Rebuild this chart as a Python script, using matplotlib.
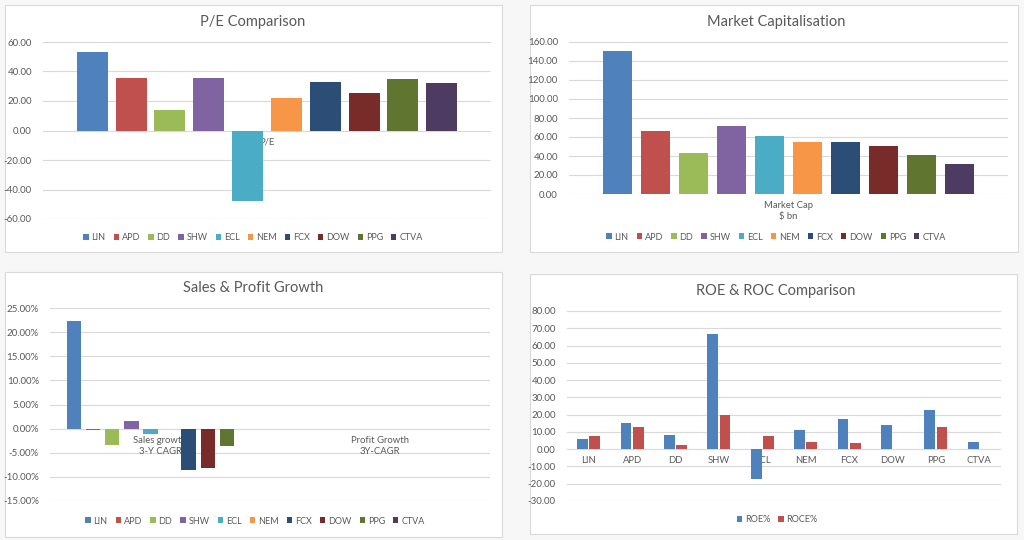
import numpy as np
import matplotlib
matplotlib.use('Agg')
import matplotlib.pyplot as plt
from matplotlib.patches import Rectangle

# data
tickers = ['LIN', 'APD', 'DD', 'SHW', 'ECL', 'NEM', 'FCX', 'DOW', 'PPG', 'CTVA']
pe = [53.5, 35.4, 14.0, 35.4, -48.0, 21.8, 32.6, 25.3, 34.9, 32.4]
mcap = [150.5, 66.3, 42.8, 71.9, 61.1, 54.4, 54.7, 50.2, 41.4, 31.9]
growth_cats = ['Sales growth\n3-Y CAGR', 'Profit Growth\n3Y-CAGR']
sales_growth = [22.3, -0.3, -3.3, 1.6, -1.1, np.nan, -8.6, -8.1, -3.5, np.nan]
profit_growth = [np.nan] * 10
roe = [5.8, 15.2, 8.5, 66.5, -17.3, 11.0, 17.7, 14.0, 22.5, 4.2]
roce = [7.7, 12.9, 2.5, 19.7, 7.7, 4.4, 3.7, np.nan, 12.9, np.nan]

colors = ['#4F81BD', '#C0504D', '#9BBB59', '#8064A2', '#4BACC6',
          '#F79646', '#2C4D75', '#772C2A', '#5F7530', '#4D3B62']
txt = '#595959'
grid_c = '#d9d9d9'

plt.rcParams['font.family'] = ['Lato', 'DejaVu Sans']

W, H = 1024, 540
fig = plt.figure(figsize=(W / 100, H / 100), dpi=100)
fig.patch.set_facecolor('#f7f7f7')


def px_axes(x0, y0, x1, y1):
    ax = fig.add_axes([x0 / W, 1 - y1 / H, (x1 - x0) / W, (y1 - y0) / H])
    ax.set_zorder(2)
    return ax


def panel(x0, y0, x1, y1):
    fig.patches.append(Rectangle((x0 / W, 1 - y1 / H), (x1 - x0) / W, (y1 - y0) / H,
                                 transform=fig.transFigure, facecolor='white',
                                 edgecolor=grid_c, lw=0.8, zorder=-1))


def style(ax, ylim, step, fmt):
    ax.set_facecolor('none')
    ax.set_ylim(*ylim)
    ax.set_yticks(np.arange(ylim[0], ylim[1] + step / 2, step))
    ax.yaxis.set_major_formatter(plt.FuncFormatter(lambda v, p: fmt.format(v)))
    ax.tick_params(axis='y', length=0, labelsize=7, labelcolor=txt, pad=8)
    ax.tick_params(axis='x', length=0, labelbottom=False)
    for s in ax.spines.values():
        s.set_visible(False)
    ax.grid(axis='y', color=grid_c, lw=0.8)
    ax.set_axisbelow(True)


def legend(handles, labels, cx, cy):
    fig.legend(handles, labels, loc='center', bbox_to_anchor=(cx / W, 1 - cy / H),
               ncol=len(labels), frameon=False, fontsize=6.5, labelcolor=txt,
               handlelength=0.6, handleheight=0.6, handletextpad=0.3,
               columnspacing=0.9, borderpad=0)


def cat_label(ax, x, text):
    # category labels sit just under the zero line, behind the bars
    ax.annotate(text, (x, 0), xytext=(0, -5), textcoords='offset points',
                ha='center', va='top', fontsize=6.8, color=txt, linespacing=1.3,
                zorder=0.8)


# ---- P/E Comparison ----
panel(5, 5, 502, 252)
ax1 = px_axes(43, 42, 491, 219)
x = np.arange(len(tickers))
bars1 = ax1.bar(x, pe, width=0.8, color=colors)
ax1.set_xlim(-1.27, 9 + 1.27)
style(ax1, (-60, 60), 20, '{:.2f}')
cat_label(ax1, x.mean(), 'P/E')
fig.text(253 / W, 1 - 22 / H, 'P/E Comparison', ha='center', va='center', fontsize=10.5, color=txt)
legend(bars1, tickers, 253, 238)

# ---- Market Capitalisation ----
panel(530, 5, 1018, 252)
ax2 = px_axes(569, 42, 1008, 194)
bars2 = ax2.bar(x, mcap, width=0.78, color=colors)
ax2.set_xlim(-1.28, 9 + 1.28)
style(ax2, (0, 160), 20, '{:.2f}')
cat_label(ax2, x.mean(), 'Market Cap\n$ bn')
fig.text(776 / W, 1 - 22 / H, 'Market Capitalisation', ha='center', va='center', fontsize=10.5, color=txt)
legend(bars2, tickers, 776, 237)

# ---- Sales & Profit Growth ----
panel(5, 272, 502, 537)
ax3 = px_axes(50, 308, 490, 501)
cat_w = 11.5
cat_x = np.arange(len(growth_cats)) * cat_w
handles3 = []
for i, t in enumerate(tickers):
    vals = [sales_growth[i], profit_growth[i]]
    b = ax3.bar(cat_x + (i - 4.5), vals, width=0.76, color=colors[i])
    handles3.append(b)
ax3.set_xlim(-cat_w / 2, cat_x[-1] + cat_w / 2)
style(ax3, (-15, 25), 5, '{:.2f}%')
for cx, lab in zip(cat_x, growth_cats):
    cat_label(ax3, cx, lab)
fig.text(253 / W, 1 - 288 / H, 'Sales & Profit Growth', ha='center', va='center', fontsize=10.5, color=txt)
legend(handles3, tickers, 255, 521)

# ---- ROE & ROC Comparison ----
panel(530, 274, 1017, 534)
ax4 = px_axes(567, 311, 1001, 501)
b_roe = ax4.bar(x - 0.14, roe, width=0.25, color=colors[0])
b_roce = ax4.bar(x + 0.14, roce, width=0.25, color=colors[1])
ax4.set_xlim(-0.5, 9.5)
style(ax4, (-30, 80), 10, '{:.2f}')
for xi, t in zip(x, tickers):
    cat_label(ax4, xi, t)
fig.text(776 / W, 1 - 291 / H, 'ROE & ROC Comparison', ha='center', va='center', fontsize=10.5, color=txt)
legend([b_roe, b_roce], ['ROE%', 'ROCE%'], 777, 520)

fig.savefig('out.png', dpi=100, facecolor=fig.get_facecolor())
